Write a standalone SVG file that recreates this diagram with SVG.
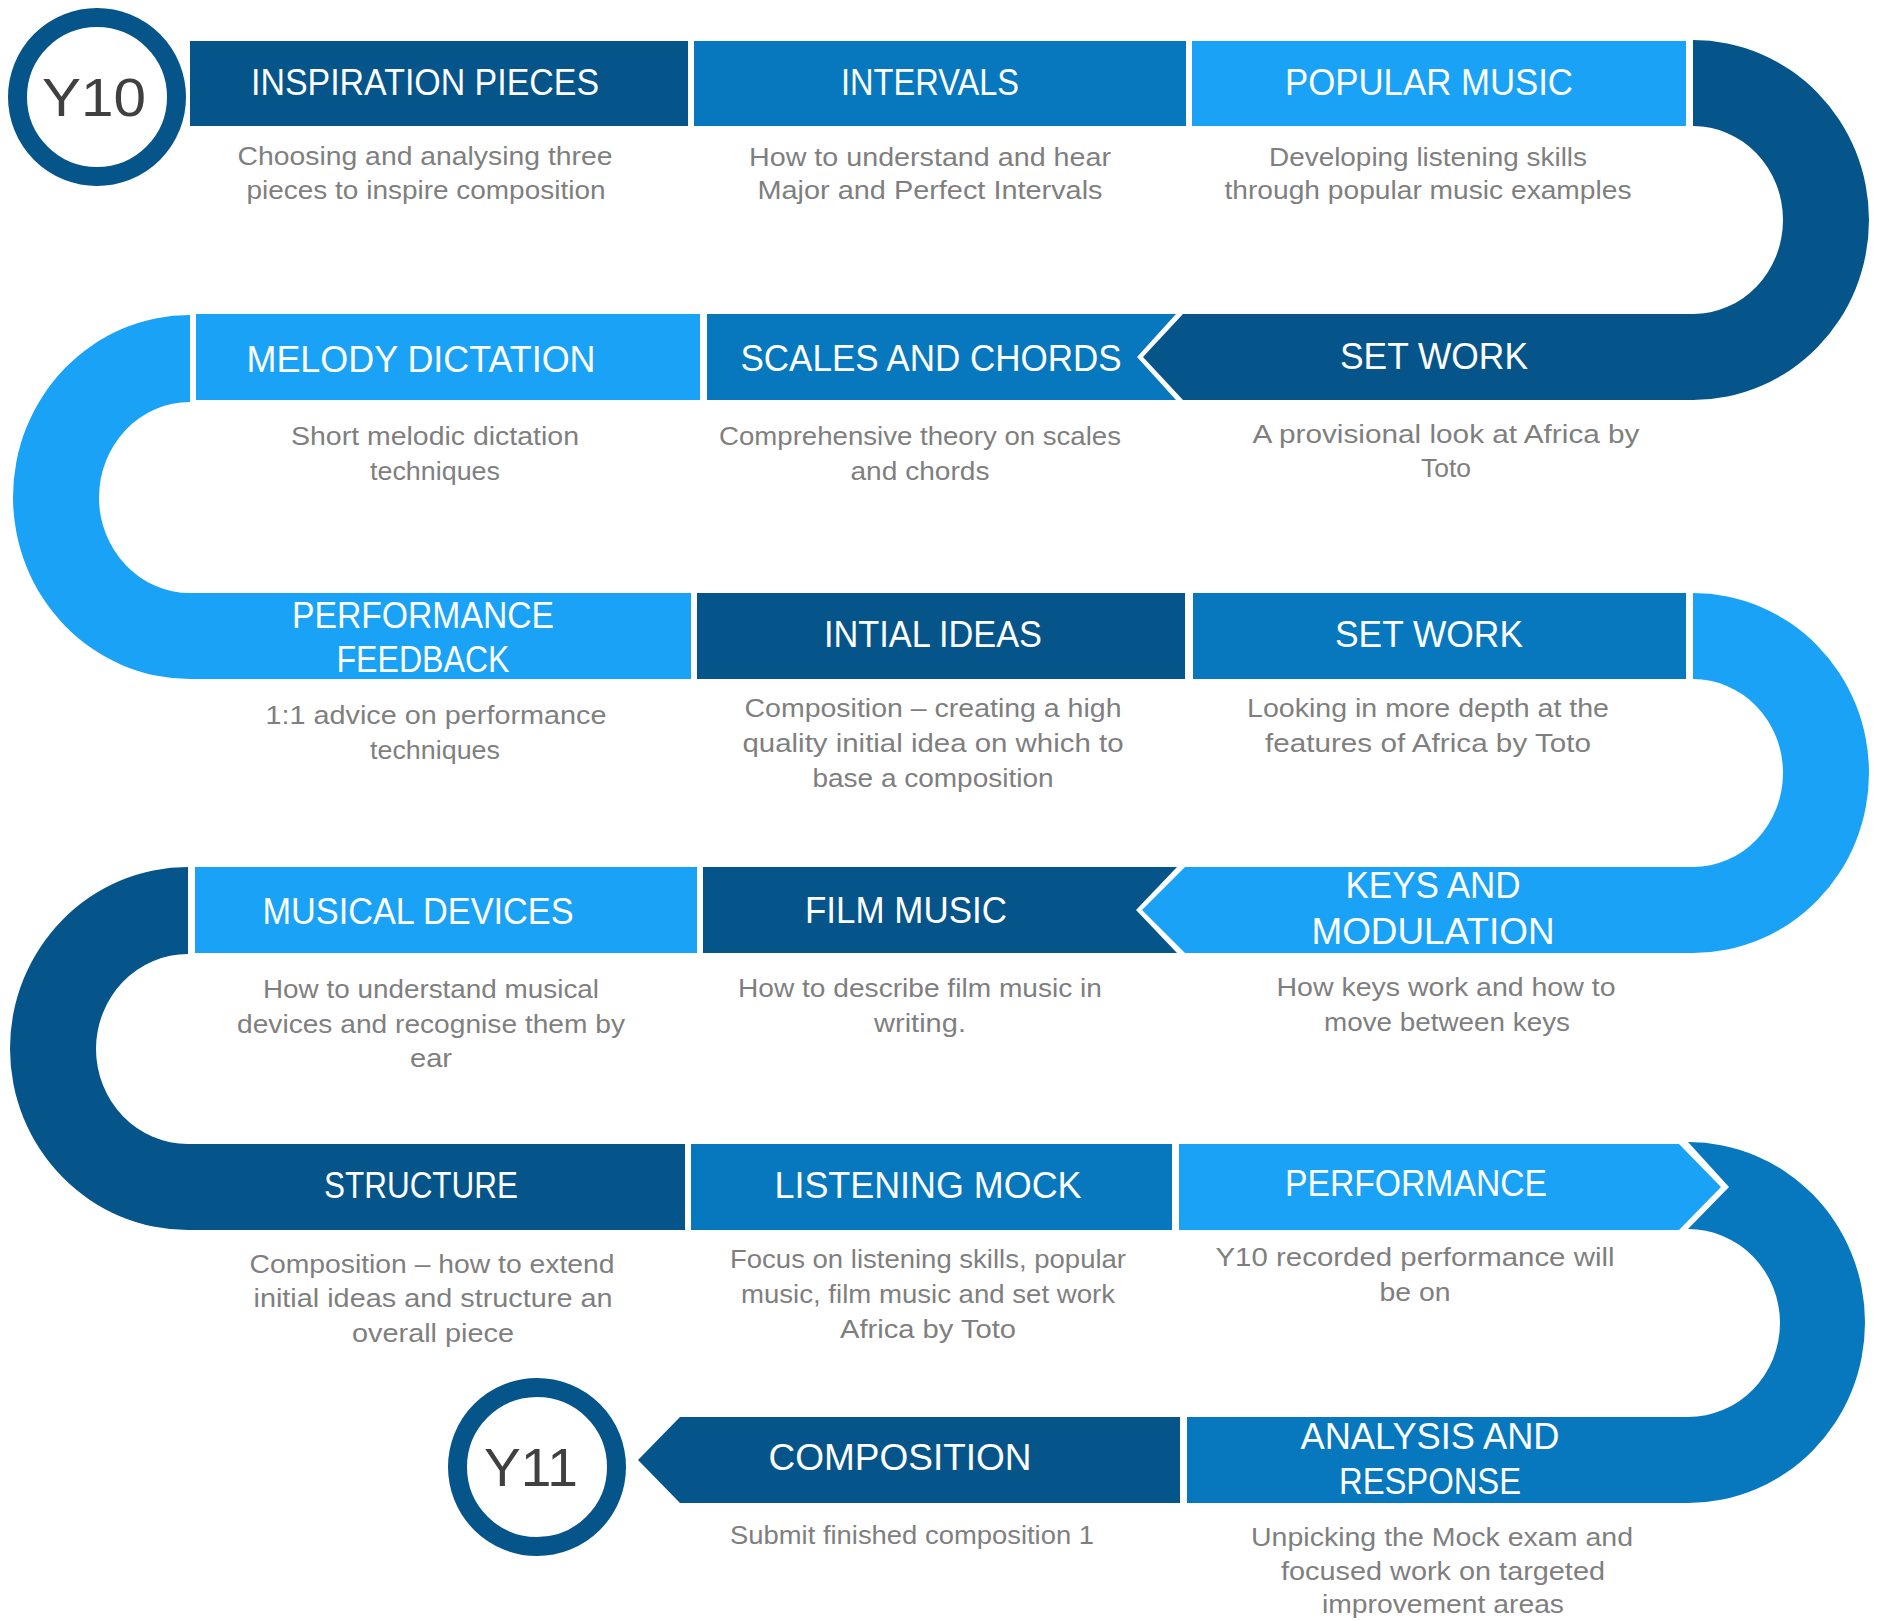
<svg xmlns="http://www.w3.org/2000/svg" width="1887" height="1621" viewBox="0 0 1887 1621">
<style>
.dk{fill:#05558A}
.md{fill:#0778BE}
.lt{fill:#1AA3F6}
.t{font-family:"Liberation Sans",Arial,sans-serif;font-size:36px;fill:#ffffff;text-anchor:middle}
.d{font-family:"Liberation Sans",Arial,sans-serif;font-size:26px;fill:#7f7f7f;text-anchor:middle}
.y{font-family:"Liberation Sans",Arial,sans-serif;font-size:54px;fill:#404040;text-anchor:middle}
.ring{fill:#ffffff;stroke:#05558A;stroke-width:19}
</style>
<rect width="1887" height="1621" fill="#ffffff"/>
<g id="connectors">
<path class="dk" d="M1693,40 A176,180 0 0 1 1693,400 L1693,314 A90,94 0 0 0 1693,126 Z"/>
<path class="lt" d="M190,315 A177,182 0 0 0 190,679 L190,593 A91,95.5 0 0 1 190,402 Z"/>
<path class="lt" d="M1693,593 A176,180 0 0 1 1693,953 L1693,867 A90,94 0 0 0 1693,679 Z"/>
<path class="dk" d="M188,867 A178,181.5 0 0 0 188,1230 L188,1144 A92,95 0 0 1 188,954 Z"/>
<path class="md" d="M1688,1142 A177,180.5 0 0 1 1688,1503 L1688,1417 A92,94 0 0 0 1688,1229 L1729,1187 Z"/>
</g>
<g id="y10">
<circle class="ring" cx="97" cy="97" r="79.5"/>
<text class="y" x="94" y="116" textLength="104" lengthAdjust="spacingAndGlyphs">Y10</text>
</g>
<g id="inspiration-pieces">
<rect class="dk" x="190" y="41" width="498" height="85"/>
<text class="t" x="425" y="95" textLength="348" lengthAdjust="spacingAndGlyphs">INSPIRATION PIECES</text>
<text class="d" x="425" y="165" textLength="375" lengthAdjust="spacingAndGlyphs">Choosing and analysing three</text>
<text class="d" x="426" y="199" textLength="359" lengthAdjust="spacingAndGlyphs">pieces to inspire composition</text>
</g>
<g id="intervals">
<rect class="md" x="694" y="41" width="492" height="85"/>
<text class="t" x="930" y="95" textLength="178" lengthAdjust="spacingAndGlyphs">INTERVALS</text>
<text class="d" x="930" y="166" textLength="362" lengthAdjust="spacingAndGlyphs">How to understand and hear</text>
<text class="d" x="930" y="199" textLength="345" lengthAdjust="spacingAndGlyphs">Major and Perfect Intervals</text>
</g>
<g id="popular-music">
<rect class="lt" x="1192" y="41" width="494" height="85"/>
<text class="t" x="1429" y="95" textLength="288" lengthAdjust="spacingAndGlyphs">POPULAR MUSIC</text>
<text class="d" x="1428" y="166" textLength="318" lengthAdjust="spacingAndGlyphs">Developing listening skills</text>
<text class="d" x="1428" y="199" textLength="407" lengthAdjust="spacingAndGlyphs">through popular music examples</text>
</g>
<g id="set-work-1">
<polygon class="dk" points="1183,314 1694,314 1694,400 1183,400 1143,357"/>
<text class="t" x="1434" y="369" textLength="188" lengthAdjust="spacingAndGlyphs">SET WORK</text>
<text class="d" x="1446" y="443" textLength="387" lengthAdjust="spacingAndGlyphs">A provisional look at Africa by</text>
<text class="d" x="1446" y="477" textLength="50" lengthAdjust="spacingAndGlyphs">Toto</text>
</g>
<g id="scales-and-chords">
<polygon class="md" points="707,314 1176,314 1137,357 1176,400 707,400"/>
<text class="t" x="931" y="371" textLength="381" lengthAdjust="spacingAndGlyphs">SCALES AND CHORDS</text>
<text class="d" x="920" y="445" textLength="402" lengthAdjust="spacingAndGlyphs">Comprehensive theory on scales</text>
<text class="d" x="920" y="480" textLength="139" lengthAdjust="spacingAndGlyphs">and chords</text>
</g>
<g id="melody-dictation">
<rect class="lt" x="196" y="314" width="504" height="86"/>
<text class="t" x="421" y="372" textLength="349" lengthAdjust="spacingAndGlyphs">MELODY DICTATION</text>
<text class="d" x="435" y="445" textLength="288" lengthAdjust="spacingAndGlyphs">Short melodic dictation</text>
<text class="d" x="435" y="480" textLength="130" lengthAdjust="spacingAndGlyphs">techniques</text>
</g>
<g id="performance-feedback">
<rect class="lt" x="189" y="593" width="502" height="86"/>
<text class="t" x="423" y="628" textLength="262" lengthAdjust="spacingAndGlyphs">PERFORMANCE</text>
<text class="t" x="423" y="672" textLength="173" lengthAdjust="spacingAndGlyphs">FEEDBACK</text>
<text class="d" x="436" y="724" textLength="341" lengthAdjust="spacingAndGlyphs">1:1 advice on performance</text>
<text class="d" x="435" y="759" textLength="130" lengthAdjust="spacingAndGlyphs">techniques</text>
</g>
<g id="initial-ideas">
<rect class="dk" x="697" y="593" width="488" height="86"/>
<text class="t" x="933" y="647" textLength="218" lengthAdjust="spacingAndGlyphs">INTIAL IDEAS</text>
<text class="d" x="933" y="717" textLength="377" lengthAdjust="spacingAndGlyphs">Composition – creating a high</text>
<text class="d" x="933" y="752" textLength="381" lengthAdjust="spacingAndGlyphs">quality initial idea on which to</text>
<text class="d" x="933" y="787" textLength="241" lengthAdjust="spacingAndGlyphs">base a composition</text>
</g>
<g id="set-work-2">
<rect class="md" x="1193" y="593" width="493" height="86"/>
<text class="t" x="1429" y="647" textLength="188" lengthAdjust="spacingAndGlyphs">SET WORK</text>
<text class="d" x="1428" y="717" textLength="362" lengthAdjust="spacingAndGlyphs">Looking in more depth at the</text>
<text class="d" x="1428" y="752" textLength="326" lengthAdjust="spacingAndGlyphs">features of Africa by Toto</text>
</g>
<g id="keys-and-modulation">
<polygon class="lt" points="1185,867 1694,867 1694,953 1185,953 1142,910"/>
<text class="t" x="1433" y="898" textLength="175" lengthAdjust="spacingAndGlyphs">KEYS AND</text>
<text class="t" x="1433" y="944" textLength="243" lengthAdjust="spacingAndGlyphs">MODULATION</text>
<text class="d" x="1446" y="996" textLength="339" lengthAdjust="spacingAndGlyphs">How keys work and how to</text>
<text class="d" x="1447" y="1031" textLength="246" lengthAdjust="spacingAndGlyphs">move between keys</text>
</g>
<g id="film-music">
<polygon class="dk" points="703,867 1177,867 1136,910 1177,953 703,953"/>
<text class="t" x="906" y="923" textLength="202" lengthAdjust="spacingAndGlyphs">FILM MUSIC</text>
<text class="d" x="920" y="997" textLength="364" lengthAdjust="spacingAndGlyphs">How to describe film music in</text>
<text class="d" x="920" y="1032" textLength="92" lengthAdjust="spacingAndGlyphs">writing.</text>
</g>
<g id="musical-devices">
<rect class="lt" x="195" y="867" width="502" height="86"/>
<text class="t" x="418" y="924" textLength="311" lengthAdjust="spacingAndGlyphs">MUSICAL DEVICES</text>
<text class="d" x="431" y="998" textLength="336" lengthAdjust="spacingAndGlyphs">How to understand musical</text>
<text class="d" x="431" y="1033" textLength="388" lengthAdjust="spacingAndGlyphs">devices and recognise them by</text>
<text class="d" x="431" y="1067" textLength="42" lengthAdjust="spacingAndGlyphs">ear</text>
</g>
<g id="structure">
<rect class="dk" x="187" y="1144" width="498" height="86"/>
<text class="t" x="421" y="1198" textLength="194" lengthAdjust="spacingAndGlyphs">STRUCTURE</text>
<text class="d" x="432" y="1273" textLength="365" lengthAdjust="spacingAndGlyphs">Composition – how to extend</text>
<text class="d" x="433" y="1307" textLength="359" lengthAdjust="spacingAndGlyphs">initial ideas and structure an</text>
<text class="d" x="433" y="1342" textLength="162" lengthAdjust="spacingAndGlyphs">overall piece</text>
</g>
<g id="listening-mock">
<rect class="md" x="691" y="1144" width="481" height="86"/>
<text class="t" x="928" y="1198" textLength="307" lengthAdjust="spacingAndGlyphs">LISTENING MOCK</text>
<text class="d" x="928" y="1268" textLength="396" lengthAdjust="spacingAndGlyphs">Focus on listening skills, popular</text>
<text class="d" x="928" y="1303" textLength="374" lengthAdjust="spacingAndGlyphs">music, film music and set work</text>
<text class="d" x="928" y="1338" textLength="176" lengthAdjust="spacingAndGlyphs">Africa by Toto</text>
</g>
<g id="performance">
<polygon class="lt" points="1179,1144 1679,1144 1721,1187 1679,1230 1179,1230"/>
<text class="t" x="1416" y="1196" textLength="262" lengthAdjust="spacingAndGlyphs">PERFORMANCE</text>
<text class="d" x="1415" y="1266" textLength="399" lengthAdjust="spacingAndGlyphs">Y10 recorded performance will</text>
<text class="d" x="1415" y="1301" textLength="71" lengthAdjust="spacingAndGlyphs">be on</text>
</g>
<g id="analysis-and-response">
<rect class="md" x="1187" y="1417" width="502" height="86"/>
<text class="t" x="1430" y="1449" textLength="259" lengthAdjust="spacingAndGlyphs">ANALYSIS AND</text>
<text class="t" x="1430" y="1494" textLength="182" lengthAdjust="spacingAndGlyphs">RESPONSE</text>
<text class="d" x="1442" y="1546" textLength="382" lengthAdjust="spacingAndGlyphs">Unpicking the Mock exam and</text>
<text class="d" x="1443" y="1580" textLength="324" lengthAdjust="spacingAndGlyphs">focused work on targeted</text>
<text class="d" x="1443" y="1613" textLength="242" lengthAdjust="spacingAndGlyphs">improvement areas</text>
</g>
<g id="composition">
<polygon class="dk" points="680,1417 1180,1417 1180,1503 680,1503 638,1460"/>
<text class="t" x="900" y="1470" textLength="263" lengthAdjust="spacingAndGlyphs">COMPOSITION</text>
<text class="d" x="912" y="1544" textLength="364" lengthAdjust="spacingAndGlyphs">Submit finished composition 1</text>
</g>
<g id="y11">
<circle class="ring" cx="537" cy="1467" r="79.5"/>
<text class="y" x="531" y="1486" textLength="94" lengthAdjust="spacingAndGlyphs">Y11</text>
</g>
</svg>
